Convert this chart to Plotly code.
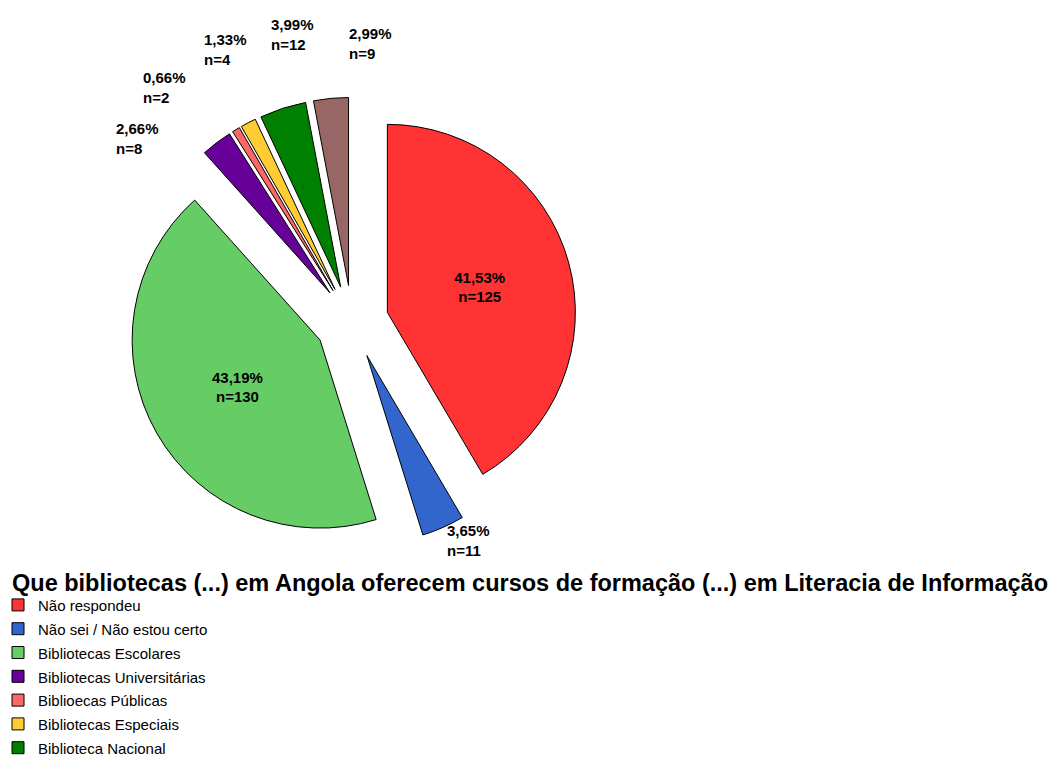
import plotly.graph_objects as go

labels = ["Não respondeu", "Não sei / Não estou certo", "Bibliotecas Escolares",
          "Bibliotecas Universitárias", "Biblioecas Públicas", "Bibliotecas Especiais",
          "Biblioteca Nacional", "Outras"]
counts = [125, 11, 130, 8, 2, 4, 12, 9]
pct_text = ["41,53%", "3,65%", "43,19%", "2,66%", "0,66%", "1,33%", "3,99%", "2,99%"]
colors = ["#FF3333", "#3366CC", "#66CC66", "#660099", "#FF6666", "#FFCC33", "#008000", "#996666"]
inside = [True, False, True, False, False, False, False, False]

# the page body adds an 8px margin, so the figure is 8px smaller than the window
OFF = 8
W, H = 1064 - OFF, 762 - OFF
FONT = "Liberation Sans, Arial"

# pie geometry in window pixels
cx, cy, r, pull = 352, 322, 188, 0.195
half = r * (1 + pull)
fx, fy = cx - OFF, cy - OFF

slice_text = [f"{p}<br>n={n}" if ins else "" for p, n, ins in zip(pct_text, counts, inside)]
legend_labels = [f"<span style='font-size:15px'>{l}</span>" for l in labels]

fig = go.Figure(go.Pie(
    labels=legend_labels,
    values=counts,
    text=slice_text,
    textinfo="text",
    textposition="inside",
    insidetextorientation="horizontal",
    textfont=dict(family=FONT, size=15, color="black", weight="bold"),
    sort=False,
    direction="clockwise",
    rotation=0,
    pull=pull,
    marker=dict(colors=colors, line=dict(color="black", width=1)),
    domain=dict(x=[(fx - half) / W, (fx + half) / W], y=[1 - (fy + half) / H, 1 - (fy - half) / H]),
    hoverinfo="label+value",
))

# outside labels for small slices: (left x, first-line centre y) in window pixels
out_pos = {1: (447, 530), 3: (116, 128), 4: (143, 77), 5: (204, 39), 6: (271, 24), 7: (349, 33)}
annotations = []
for i, (x, y) in out_pos.items():
    annotations.append(dict(
        text=f"<b>{pct_text[i]}<br>n={counts[i]}</b>",
        xref="paper", yref="paper", x=(x - OFF - 2) / W, y=1 - (y - OFF - 10) / H,
        xanchor="left", yanchor="top", align="left", showarrow=False,
        font=dict(family=FONT, size=15, color="black"),
    ))

fig.update_layout(
    width=W, height=H, autosize=False,
    margin=dict(l=0, r=0, t=0, b=0, autoexpand=False),
    paper_bgcolor="white", plot_bgcolor="white",
    title=dict(
        text="<b>Que bibliotecas (...) em Angola oferecem cursos de formação (...) em Literacia de Informação</b>",
        x=(12 - OFF) / W, xref="paper", xanchor="left", y=1 - (583 - OFF) / H, yref="paper", yanchor="middle",
        font=dict(family=FONT, size=23.5, color="black"),
    ),
    legend=dict(
        x=-10 / W, y=1 - 580 / H, xanchor="left", yanchor="top",
        font=dict(family=FONT, size=16, color="black"),
        bgcolor="rgba(0,0,0,0)", borderwidth=0,
    ),
    showlegend=True,
    annotations=annotations,
)

fig.write_html("out.html")
